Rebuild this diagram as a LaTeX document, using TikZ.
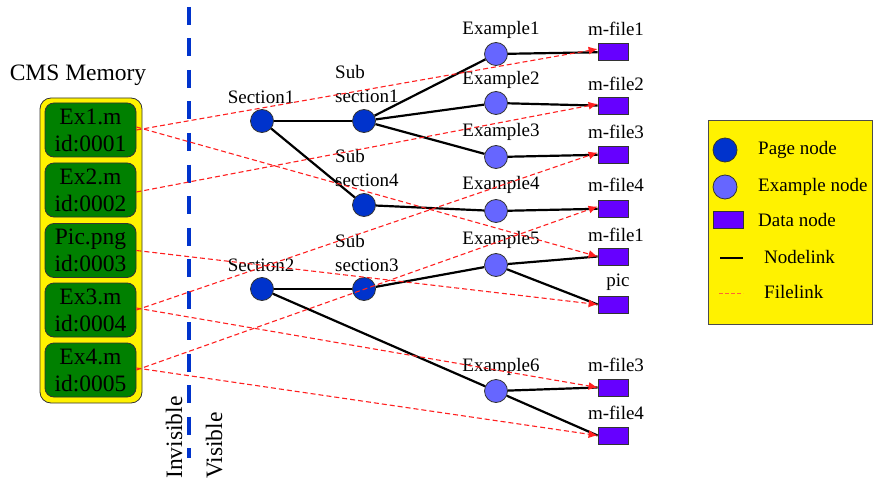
\documentclass[tikz,border=0pt]{standalone}
\usepackage{fontspec}
\setmainfont{Liberation Serif}
\newfontfamily\lserif{Liberation Serif}
\usetikzlibrary{arrows.meta}
\definecolor{pageblue}{HTML}{0033CC}
\definecolor{exblue}{HTML}{6666FF}
\definecolor{datapurple}{HTML}{6600FF}
\definecolor{memgreen}{HTML}{008000}
\definecolor{filered}{HTML}{FF2020}
\definecolor{legorange}{HTML}{FF6633}
\tikzset{
  lbl/.style={font=\lserif\fontsize{19}{24}\selectfont, inner sep=0pt},
  biglbl/.style={font=\lserif\fontsize{23.5}{27}\selectfont, inner sep=0pt},
  pagenode/.style={circle, draw=black!80, line width=0.8pt, fill=pageblue, minimum size=23pt, inner sep=0pt},
  exnode/.style={circle, draw=black!80, line width=0.8pt, fill=exblue, minimum size=23pt, inner sep=0pt},
  datanode/.style={rectangle, draw=black!80, line width=0.8pt, fill=datapurple, minimum width=30pt, minimum height=17pt, inner sep=0pt},
  membox/.style={rectangle, rounded corners=9pt, draw=black!80, line width=0.8pt, fill=memgreen, minimum width=91pt, minimum height=54pt, inner sep=0pt, align=center, font=\lserif\fontsize{23.5}{27}\selectfont},
  nodelink/.style={line width=2.2pt, black},
  filelink/.style={filered, line width=1.1pt, dash pattern=on 5pt off 3pt, -{Latex[length=9pt,width=8pt]}},
}
\begin{document}
\begin{tikzpicture}[x=1pt,y=-1pt]
\useasboundingbox (0,0) rectangle (874,481);
% memory
\node[biglbl] (cms) at (78,75) {CMS Memory};
\draw[fill=yellow, draw=black!80, line width=0.8pt, rounded corners=11pt] (40,98) rectangle (142,403);
\node[membox] (m1) at (90.5,130) {Ex1.m\\id:0001};
\node[membox] (m2) at (90.5,190) {Ex2.m\\id:0002};
\node[membox] (m3) at (90.5,250.5) {Pic.png\\id:0003};
\node[membox] (m4) at (90.5,310) {Ex3.m\\id:0004};
\node[membox] (m5) at (90.5,370) {Ex4.m\\id:0005};
% divider
\coordinate (divtop) at (189,7);
\coordinate (divbot) at (189,458);
\draw[pageblue, line width=4pt, dash pattern=on 18pt off 13.5pt] (divtop) -- (divbot);
\node[biglbl, rotate=90, anchor=base west] (invis) at (182,479) {Invisible};
\node[biglbl, rotate=90, anchor=base west] (vis) at (222,479) {Visible};
% page nodes
\node[pagenode] (s1) at (262,121) {};
\node[pagenode] (ss1) at (364,121) {};
\node[pagenode] (ss4) at (364,205) {};
\node[pagenode] (s2) at (262,289) {};
\node[pagenode] (ss3) at (364,289) {};
\node[lbl] (ls1) at (261,97) {Section1};
\node[lbl] (ls2) at (261,265) {Section2};
\node[lbl, align=left, anchor=west] (lss1) at (335,84.5) {Sub\\section1};
\node[lbl, align=left, anchor=west] (lss4) at (335,168.5) {Sub\\section4};
\node[lbl, align=left, anchor=west] (lss3) at (335,252.5) {Sub\\section3};
% example nodes
\node[exnode] (e1) at (496,54) {};
\node[exnode] (e2) at (496,103) {};
\node[exnode] (e3) at (496,157) {};
\node[exnode] (e4) at (496,211) {};
\node[exnode] (e5) at (496,265) {};
\node[exnode] (e6) at (496,391) {};
\node[lbl] (le1) at (501,30) {Example1};
\node[lbl] (le2) at (501,80) {Example2};
\node[lbl] (le3) at (501,132) {Example3};
\node[lbl] (le4) at (501,185) {Example4};
\node[lbl] (le5) at (501,240) {Example5};
\node[lbl] (le6) at (501,367) {Example6};
% data nodes
\node[datanode] (d1) at (613,52) {};
\node[datanode] (d2) at (613,106) {};
\node[datanode] (d3) at (613,154.5) {};
\node[datanode] (d4) at (613,208.5) {};
\node[datanode] (d5) at (613,256.5) {};
\node[datanode] (d6) at (613,304.5) {};
\node[datanode] (d7) at (613,387.5) {};
\node[datanode] (d8) at (613,435.5) {};
\node[lbl] (ld1) at (616,29) {m-file1};
\node[lbl] (ld2) at (616,84) {m-file2};
\node[lbl] (ld3) at (616,132) {m-file3};
\node[lbl] (ld4) at (616,185) {m-file4};
\node[lbl] (ld5) at (616,235) {m-file1};
\node[lbl] (ld6) at (618,282) {pic};
\node[lbl] (ld7) at (616,365) {m-file3};
\node[lbl] (ld8) at (616,413) {m-file4};
% node links
\draw[nodelink] (s1) -- (ss1);
\draw[nodelink] (s1) -- (ss4);
\draw[nodelink] (s2) -- (ss3);
\draw[nodelink] (s2) -- (e6);
\draw[nodelink] (ss1) -- (e1);
\draw[nodelink] (ss1) -- (e2);
\draw[nodelink] (ss1) -- (e3);
\draw[nodelink] (ss4) -- (e4);
\draw[nodelink] (ss3) -- (e5);
\draw[nodelink] (e1) -- (d1);
\draw[nodelink] (e2) -- (d2);
\draw[nodelink] (e3) -- (d3);
\draw[nodelink] (e4) -- (d4);
\draw[nodelink] (e5) -- (d5.west);
\draw[nodelink] (e5) -- (d6.west);
\draw[nodelink] (e6) -- (d7.west);
\draw[nodelink] (e6) -- (d8.west);
% file links
\draw[filelink] (m1.east) -- ([yshift=3pt]d1.west);
\draw[filelink] ([yshift=3pt]m1.east) -- (d5.west);
\draw[filelink] ([yshift=-2pt]m2.east) -- ([yshift=2pt]d2.west);
\draw[filelink] (m3.east) -- (d6.west);
\draw[filelink] (m4.east) -- ([yshift=2pt]d3.west);
\draw[filelink] ([yshift=2pt]m4.east) -- (d7.west);
\draw[filelink] (m5.east) -- ([yshift=2pt]d4.west);
\draw[filelink] ([yshift=2pt]m5.east) -- (d8.west);
% legend
\draw[fill=yellow, draw=black!70, line width=1pt] (708,121) rectangle (872,324);
\node[pagenode, minimum size=24pt] (kpage) at (725,150) {};
\node[exnode, minimum size=24pt] (kex) at (725,187) {};
\node[datanode] (kdata) at (728,219.5) {};
\coordinate (knl1) at (720,258);
\coordinate (knl2) at (743,258);
\draw[line width=1.5pt] (knl1) -- (knl2);
\coordinate (kfl1) at (719,293);
\coordinate (kfl2) at (743,293);
\draw[legorange, line width=1pt, dash pattern=on 4pt off 2pt] (kfl1) -- (kfl2);
\node[lbl, anchor=west] (tpage) at (758,150) {Page node};
\node[lbl, anchor=west] (tex) at (758,187) {Example node};
\node[lbl, anchor=west] (tdata) at (758,220) {Data node};
\node[lbl, anchor=west] (tnl) at (764,257) {Nodelink};
\node[lbl, anchor=west] (tfl) at (764,292) {Filelink};
\end{tikzpicture}
\end{document}
